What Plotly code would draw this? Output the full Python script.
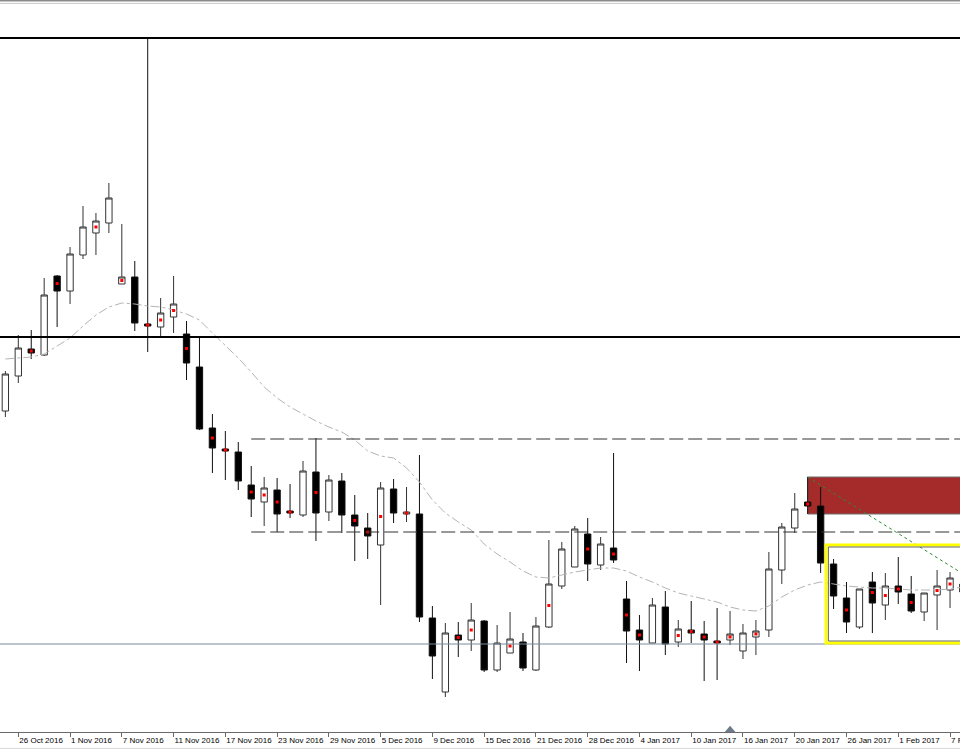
import plotly.graph_objects as go

# ---- data (price units are arbitrary; chart has no price scale visible) ----
dates = ["2016-10-25", "2016-10-26", "2016-10-27", "2016-10-28", "2016-10-31",
         "2016-11-01", "2016-11-02", "2016-11-03", "2016-11-04", "2016-11-07",
         "2016-11-08", "2016-11-09", "2016-11-10", "2016-11-11", "2016-11-14",
         "2016-11-15", "2016-11-16", "2016-11-17", "2016-11-18", "2016-11-21",
         "2016-11-22", "2016-11-23", "2016-11-24", "2016-11-25", "2016-11-28",
         "2016-11-29", "2016-11-30", "2016-12-01", "2016-12-02", "2016-12-05",
         "2016-12-06", "2016-12-07", "2016-12-08", "2016-12-09", "2016-12-12",
         "2016-12-13", "2016-12-14", "2016-12-15", "2016-12-16", "2016-12-19",
         "2016-12-20", "2016-12-21", "2016-12-22", "2016-12-23", "2016-12-27",
         "2016-12-28", "2016-12-29", "2016-12-30", "2017-01-03", "2017-01-04",
         "2017-01-05", "2017-01-06", "2017-01-09", "2017-01-10", "2017-01-11",
         "2017-01-12", "2017-01-13", "2017-01-16", "2017-01-17", "2017-01-18",
         "2017-01-19", "2017-01-20", "2017-01-23", "2017-01-24", "2017-01-25",
         "2017-01-26", "2017-01-27", "2017-01-30", "2017-01-31", "2017-02-01",
         "2017-02-02", "2017-02-03", "2017-02-06", "2017-02-07", "2017-02-08"]

opens = [339, 374, 401, 395, 474, 459, 495, 517, 527, 466,
         473, 426, 423, 433, 416, 383, 322, 301, 298, 265,
         248, 260, 239, 235, 278, 238, 269, 235, 222, 205,
         261, 236, 236, 132, 58, 115, 110, 129, 80, 97,
         108, 80, 123, 164, 183, 216, 185, 202, 151, 120,
         107, 143, 108, 120, 116, 109, 110, 99, 113, 120,
         180, 222, 248, 244, 186, 152, 123, 168, 145, 164,
         156, 138, 155, 160, 166]
highs = [379, 415, 420, 472, 475, 503, 544, 537, 567, 526,
         489, 712, 452, 474, 429, 413, 336, 319, 308, 284,
         273, 272, 266, 289, 312, 275, 277, 255, 237, 268,
         271, 263, 295, 144, 127, 128, 147, 130, 125, 138,
         117, 133, 210, 208, 224, 232, 213, 297, 169, 135,
         152, 159, 130, 149, 129, 142, 139, 126, 130, 198,
         227, 257, 273, 263, 191, 168, 161, 178, 177, 193,
         174, 157, 180, 178, 174]
lows = [333, 367, 391, 394, 423, 446, 491, 495, 517, 466,
        419, 398, 412, 417, 370, 320, 277, 270, 260, 233,
        224, 218, 232, 233, 209, 229, 217, 189, 191, 145,
        227, 228, 128, 71, 53, 93, 99, 78, 78, 97,
        79, 79, 122, 161, 183, 169, 180, 187, 87, 79,
        107, 95, 103, 107, 69, 70, 105, 91, 95, 113,
        166, 217, 236, 177, 141, 117, 121, 117, 130, 146,
        137, 129, 120, 142, 150]
closes = [376, 402, 397, 455, 459, 496, 523, 529, 552, 473,
          427, 424, 437, 446, 387, 321, 302, 299, 269, 251,
          262, 236, 237, 279, 237, 270, 235, 224, 214, 262,
          237, 238, 133, 94, 117, 110, 130, 80, 107, 111,
          82, 124, 166, 201, 221, 186, 206, 190, 119, 110,
          145, 106, 121, 117, 110, 107, 116, 117, 119, 181,
          223, 241, 244, 187, 154, 128, 161, 147, 164, 158,
          139, 157, 164, 172, 158]
ma = [391, 392, 393, 396, 404, 412, 424, 435, 443, 447,
      446, 444, 443, 440, 436, 430, 417, 405, 392, 378,
      363, 352, 343, 336, 329, 323, 318, 310, 299, 294,
      292, 282, 268, 250, 237, 228, 220, 206, 196, 188,
      179, 173, 172, 175, 178, 180, 182, 182, 179, 173,
      168, 162, 157, 154, 151, 148, 143, 140, 139, 144,
      153, 160, 165, 168, 166, 164, 163, 162, 162, 161,
      160, 160, 160, 161, 163]

# candles carrying a red marker dot (index into dates)
dot_idx = [2, 4, 7, 9, 11, 12, 13, 14, 16, 17, 19, 20, 21, 22, 24, 27, 28, 29, 31,
           35, 36, 39, 42, 45, 47, 48, 49, 52, 53, 54, 55, 56, 58, 62, 65, 67, 68,
           69, 70, 72, 73]

tick_dates = ["2016-10-26", "2016-11-01", "2016-11-07", "2016-11-11", "2016-11-17",
              "2016-11-23", "2016-11-29", "2016-12-05", "2016-12-09", "2016-12-15",
              "2016-12-21", "2016-12-28", "2017-01-04", "2017-01-10", "2017-01-16",
              "2017-01-20", "2017-01-26", "2017-02-01", "2017-02-07"]
tick_text = ["26 Oct 2016", "1 Nov 2016", "7 Nov 2016", "11 Nov 2016", "17 Nov 2016",
             "23 Nov 2016", "29 Nov 2016", "5 Dec 2016", "9 Dec 2016", "15 Dec 2016",
             "21 Dec 2016", "28 Dec 2016", "4 Jan 2017", "10 Jan 2017", "16 Jan 2017",
             "20 Jan 2017", "26 Jan 2017", "1 Feb 2017", "7 Feb 2017"]

# horizontal levels
level_top = 712
level_pivot = 413
range_high = 311
range_low = 218
support = 106
# supply zone (red) and consolidation box (yellow)
zone_low, zone_high = 236, 273
box_low, box_high = 107, 205

fig = go.Figure()

fig.add_trace(go.Scatter(x=dates, y=ma, mode="lines",
                         line=dict(color="#b4b4b4", width=1, dash="dashdot"),
                         hoverinfo="skip", showlegend=False))

fig.add_trace(go.Candlestick(
    x=dates, open=opens, high=highs, low=lows, close=closes,
    increasing=dict(line=dict(color="#333333", width=1), fillcolor="#ffffff"),
    decreasing=dict(line=dict(color="#111111", width=1), fillcolor="#000000"),
    whiskerwidth=0, showlegend=False))

fig.add_trace(go.Scatter(
    x=[dates[k] for k in dot_idx],
    y=[(opens[k] + closes[k]) / 2 for k in dot_idx],
    mode="markers",
    marker=dict(symbol="square", size=3, color="#ff0000", line=dict(width=0)),
    hoverinfo="skip", showlegend=False))

shapes = []
# supply zone
shapes.append(dict(type="rect", xref="x", yref="y", x0=62, x1=80, y0=zone_low, y1=zone_high,
                   fillcolor="#a52a2a", line=dict(color="#6f6f6f", width=1), layer="below"))
# full-width levels
for lv, col, w in [(level_top, "#000000", 2), (level_pivot, "#000000", 2), (support, "#7a8a9c", 1)]:
    shapes.append(dict(type="line", xref="paper", yref="y", x0=0, x1=1, y0=lv, y1=lv,
                       line=dict(color=col, width=w)))
# dashed range lines
for lv in [range_high, range_low]:
    shapes.append(dict(type="line", xref="x", yref="y", x0=19, x1=80, y0=lv, y1=lv,
                       line=dict(color="#333333", width=1, dash="14px,5px")))
# green dotted trend line
shapes.append(dict(type="line", xref="x", yref="y", x0=62, y0=zone_high, x1=73.77, y1=178,
                   line=dict(color="#2e8b2e", width=1, dash="dot")))
# yellow consolidation box
shapes.append(dict(type="rect", xref="x", yref="y", x0=63.42, x1=80, y0=box_low, y1=box_high,
                   line=dict(color="#ffff00", width=3)))
shapes.append(dict(type="rect", xref="x", yref="y", x0=63.6, x1=80, y0=box_low + 2, y1=box_high - 2,
                   line=dict(color="#666666", width=1)))
# top border lines
shapes.append(dict(type="line", xref="paper", yref="paper", x0=0, x1=1, y0=1.0048, y1=1.0048,
                   line=dict(color="#8a8a8a", width=2)))
shapes.append(dict(type="line", xref="paper", yref="paper", x0=0, x1=1, y0=1.0008, y1=1.0008,
                   line=dict(color="#c8c8c8", width=1)))
# bottom border line
shapes.append(dict(type="line", xref="paper", yref="paper", x0=0, x1=1, y0=-0.0225, y1=-0.0225,
                   line=dict(color="#d6d6d6", width=1)))
# chart shift marker
shapes.append(dict(type="path", xref="paper", yref="paper",
                   path="M 0.7550 0.0 L 0.7660 0.0 L 0.7605 0.0085 Z",
                   fillcolor="#6c7a8a", line=dict(width=0)))

fig.update_layout(
    width=960, height=750,
    margin=dict(l=0, r=0, t=4, b=18, autoexpand=False),
    paper_bgcolor="#ffffff", plot_bgcolor="#ffffff",
    showlegend=False,
    shapes=shapes,
    font=dict(family="Liberation Sans, Arial, sans-serif", size=8, color="#000000"),
    xaxis=dict(type="category", range=[-0.414, 73.77], rangeslider=dict(visible=False),
               showgrid=False, zeroline=False, automargin=False,
               tickmode="array", tickvals=tick_dates, ticktext=tick_text,
               tickangle=0,
               ticks="outside", ticklen=4, tickcolor="#6a6a6a", tickwidth=1,
               ticklabelposition="outside right",
               showline=True, linecolor="#6a6a6a", linewidth=1,
               tickfont=dict(size=8, color="#000000")),
    yaxis=dict(range=[18, 746], visible=False, showgrid=False, zeroline=False,
               automargin=False),
)

fig.write_html("out.html",
               config={"displayModeBar": False},
               post_script="document.body.style.margin='0px';document.body.style.overflow='hidden';")
